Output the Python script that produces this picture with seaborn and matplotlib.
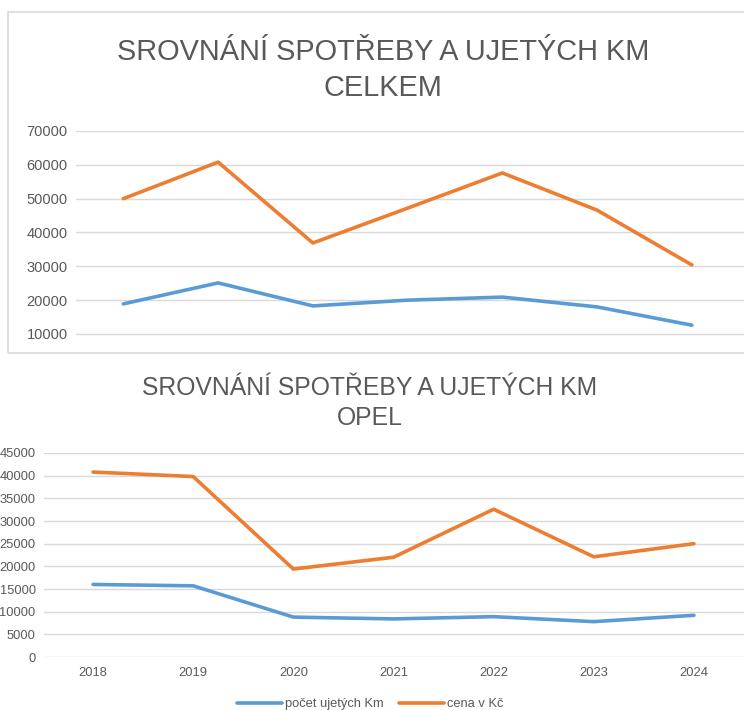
import matplotlib
matplotlib.use("Agg")
import matplotlib.pyplot as plt
import seaborn as sns
import pandas as pd
from matplotlib.lines import Line2D
from matplotlib.patches import Rectangle

years = ["2018", "2019", "2020", "2021", "2022", "2023", "2024"]
series_names = ["počet ujetých Km", "cena v Kč"]

celkem_km = [18900, 25100, 18300, 20000, 20900, 18000, 12600]
celkem_cena = [50000, 60800, 36900, 47200, 57600, 46600, 30400]

opel_km = [16000, 15700, 8800, 8400, 8900, 7800, 9200]
opel_cena = [40800, 39800, 19400, 22000, 32600, 22100, 25000]

title_top = "SROVNÁNÍ SPOTŘEBY A UJETÝCH KM"
title_celkem = "CELKEM"
title_opel = "OPEL"

top_ticks = [10000, 20000, 30000, 40000, 50000, 60000, 70000]
bottom_ticks = [0, 5000, 10000, 15000, 20000, 25000, 30000, 35000, 40000, 45000]

colors = {"počet ujetých Km": "#5B9BD5", "cena v Kč": "#ED7D31"}
TXT = "#595959"
GRID = "#D9D9D9"

sns.set_theme(style="white")
plt.rcParams["font.family"] = ["Liberation Sans", "DejaVu Sans"]


def make_df(km, cena):
    rows = []
    for i, y in enumerate(years):
        rows.append({"x": i, "year": y, "serie": series_names[0], "value": km[i]})
        rows.append({"x": i, "year": y, "serie": series_names[1], "value": cena[i]})
    return pd.DataFrame(rows)


W, H = 744, 710
fig = plt.figure(figsize=(W / 100, H / 100), dpi=100)

# frame of the top chart
fig.patches.append(Rectangle((8 / W, 1 - 353 / H), (W + 10 - 8) / W, (353 - 12) / H,
                             transform=fig.transFigure, fill=False, edgecolor=GRID, lw=1.2))

# ---------------- top chart ----------------
ax1 = fig.add_axes([76 / W, 1 - 353 / H, (W - 76) / W, 222 / H])
df1 = make_df(celkem_km, celkem_cena)
sns.lineplot(data=df1, x="x", y="value", hue="serie", palette=colors, ax=ax1,
             linewidth=2.6, legend=False)
ax1.set_xlim(-0.5, 6.55)
ax1.set_ylim(4380, 70000)
ax1.set_yticks(top_ticks)
ax1.set_yticklabels([str(t) for t in top_ticks])
ax1.set_xticks([])
ax1.grid(axis="y", color=GRID, lw=1.0)
ax1.set_axisbelow(True)
for s in ax1.spines.values():
    s.set_visible(False)
ax1.tick_params(axis="y", length=0, pad=6, labelsize=10.5, labelcolor=TXT)
ax1.set_xlabel("")
ax1.set_ylabel("")

fig.text(383 / W, 1 - 52 / H, title_top, ha="center", va="center", fontsize=20.8, color=TXT)
fig.text(383 / W, 1 - 88 / H, title_celkem, ha="center", va="center", fontsize=20.8, color=TXT)

# ---------------- bottom chart ----------------
ax2 = fig.add_axes([44 / W, 1 - 657 / H, (W - 44) / W, 204 / H])
df2 = make_df(opel_km, opel_cena)
sns.lineplot(data=df2, x="x", y="value", hue="serie", palette=colors, ax=ax2,
             linewidth=2.6, legend=False)
ax2.set_xlim(-0.49, 6.5)
ax2.set_ylim(0, 45000)
ax2.set_yticks(bottom_ticks)
ax2.set_yticklabels([str(t) for t in bottom_ticks])
ax2.set_xticks(range(len(years)))
ax2.set_xticklabels(years)
ax2.grid(axis="y", color=GRID, lw=1.0)
ax2.set_axisbelow(True)
for s in ax2.spines.values():
    s.set_visible(False)
ax2.tick_params(axis="y", length=0, pad=6, labelsize=9.3, labelcolor=TXT)
ax2.tick_params(axis="x", length=0, pad=7, labelsize=9.3, labelcolor=TXT)
ax2.set_xlabel("")
ax2.set_ylabel("")

fig.text(370 / W, 1 - 388 / H, title_top, ha="center", va="center", fontsize=17.8, color=TXT)
fig.text(370 / W, 1 - 418 / H, title_opel, ha="center", va="center", fontsize=17.8, color=TXT)

handles = [Line2D([0], [0], color=colors[n], lw=2.6) for n in series_names]
fig.legend(handles, series_names, loc="center", bbox_to_anchor=(370 / W, 1 - 704 / H),
           ncol=2, frameon=False, fontsize=9.3, labelcolor=TXT, handlelength=3.5,
           handletextpad=0.2, columnspacing=1.2)

fig.savefig("out.png", dpi=100, facecolor="white")
